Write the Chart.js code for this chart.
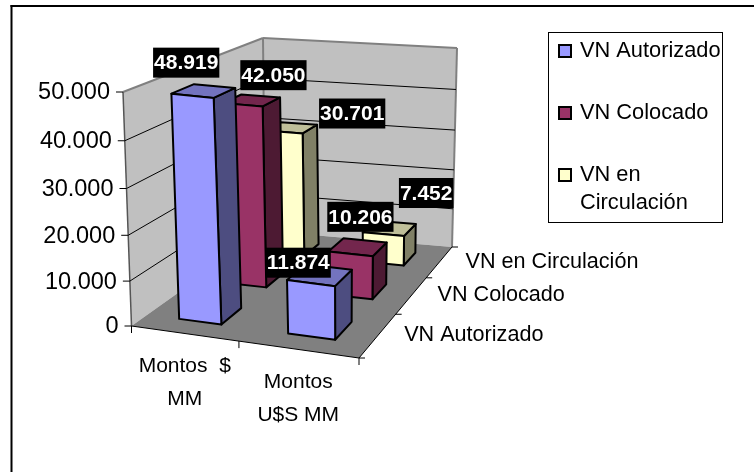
<!DOCTYPE html>
<html>
<head>
<meta charset="utf-8">
<style>
  html, body { margin: 0; padding: 0; background: #fff; }
  #wrap { position: absolute; left: 0; top: 0; width: 754px; height: 472px; }
</style>
<script src="https://cdn.jsdelivr.net/npm/chart.js@4"></script>
</head>
<body>
<div id="wrap"><canvas id="chart" width="754" height="472"></canvas></div>
<script>
const categories = [['Montos  $', 'MM'], ['Montos', 'U$S MM']];
const seriesNames = ['VN Autorizado', 'VN Colocado', 'VN en Circulación'];
const legendLines = [['VN Autorizado'], ['VN Colocado'], ['VN en', 'Circulación']];
const vnAutorizado = [48919, 11874];
const vnColocado = [42050, 10206];
const vnCirculacion = [30701, 7452];

const FONT = '"Liberation Sans", Arial, sans-serif';

// where the box of the 3D plot lands on the page
const floorQuad = [[131.5, 326], [359, 358], [452, 247], [265, 231]];
const roofQuad = [[123, 92], [362, 118], [457, 48], [263, 38]];

// label box offsets from the bar top, by series then category
const labelNudge = [[[-16, -28], [-20, -12]], [[23, -25], [4, -30]], [[62, -14], [38, -35]]];

function quadMap(q) {
  const [p0, p1, p2, p3] = q;
  const dx1 = p1[0] - p2[0], dx2 = p3[0] - p2[0], sx = p0[0] - p1[0] + p2[0] - p3[0];
  const dy1 = p1[1] - p2[1], dy2 = p3[1] - p2[1], sy = p0[1] - p1[1] + p2[1] - p3[1];
  const den = dx1 * dy2 - dx2 * dy1;
  const g = (sx * dy2 - dx2 * sy) / den;
  const h = (dx1 * sy - sx * dy1) / den;
  const a = p1[0] - p0[0] + g * p1[0], b = p3[0] - p0[0] + h * p3[0];
  const d = p1[1] - p0[1] + g * p1[1], e = p3[1] - p0[1] + h * p3[1];
  return function(u, w) {
    const t = g * u + h * w + 1;
    return [(a * u + b * w + p0[0]) / t, (d * u + e * w + p0[1]) / t];
  };
}
const floorAt = quadMap(floorQuad);
const roofAt = quadMap(roofQuad);

// u along categories, w into the page, h up the value axis (all 0..1)
function project(u, w, h) {
  const f = h / (1 + 0.053 * (1 - h));
  const a = floorAt(u, w), b = roofAt(u, w);
  return [a[0] + (b[0] - a[0]) * f, a[1] + (b[1] - a[1]) * f];
}

function poly(ctx, pts, fill, stroke, lw) {
  ctx.beginPath();
  pts.forEach((p, i) => i ? ctx.lineTo(p[0], p[1]) : ctx.moveTo(p[0], p[1]));
  ctx.closePath();
  if (fill) { ctx.fillStyle = fill; ctx.fill(); }
  if (stroke) { ctx.strokeStyle = stroke; ctx.lineWidth = lw; ctx.stroke(); }
}

function seg(ctx, a, b, color, lw) {
  ctx.beginPath();
  ctx.moveTo(a[0], a[1]);
  ctx.lineTo(b[0], b[1]);
  ctx.strokeStyle = color;
  ctx.lineWidth = lw;
  ctx.stroke();
}

function fmt(v) {
  return String(v).replace(/\B(?=(\d{3})+$)/g, '.');
}

function ux(chart, i) { const s = chart.scales.x; return s.getDecimalForPixel(s.getPixelForValue(i)); }
function wz(chart, i) { const s = chart.scales.z; return s.getDecimalForPixel(s.getPixelForValue(i)); }
function hy(chart, v) { const s = chart.scales.y; return s.getDecimalForPixel(s.getPixelForValue(v)); }

// bar controller that paints each value as a box standing on the floor
class Bar3DController extends Chart.BarController {
  draw() {
    const chart = this.chart, ctx = chart.ctx, ds = this.getDataset();
    const w = wz(chart, this.index);
    const du = 0.1, dw = 0.07;
    ctx.save();
    ctx.lineJoin = 'round';
    ds.data.forEach((v, i) => {
      const u = ux(chart, i) + 0.006, h = hy(chart, v);
      const p = (a, b, c) => project(u + a * du, w + b * dw, c);
      poly(ctx, [p(1, -1, 0), p(1, 1, 0), p(1, 1, h), p(1, -1, h)], ds.sideColor, '#000', 2);
      poly(ctx, [p(-1, -1, h), p(1, -1, h), p(1, 1, h), p(-1, 1, h)], ds.topColor, '#000', 2);
      poly(ctx, [p(-1, -1, 0), p(1, -1, 0), p(1, -1, h), p(-1, -1, h)], ds.backgroundColor, '#000', 2);
    });
    ctx.restore();
  }
}
Bar3DController.id = 'bar3d';
Bar3DController.defaults = Chart.BarController.defaults;
Chart.register(Bar3DController);

const plotBox = {
  id: 'plotBox',
  beforeDatasetsDraw(chart) {
    const ctx = chart.ctx, yScale = chart.scales.y;
    ctx.save();
    // outer frame, only its top and left edges fall inside the page
    seg(ctx, [10.5, 6], [754, 6], '#000', 2);
    seg(ctx, [11.5, 5], [11.5, 472], '#000', 2);
    // walls and floor
    poly(ctx, [project(0, 0, 0), project(0, 1, 0), project(0, 1, 1), project(0, 0, 1)], '#c0c0c0');
    poly(ctx, [project(0, 1, 0), project(1, 1, 0), project(1, 1, 1), project(0, 1, 1)], '#c0c0c0');
    poly(ctx, [project(0, 0, 0), project(1, 0, 0), project(1, 1, 0), project(0, 1, 0)], '#808080');
    seg(ctx, project(0, 1, 0), project(0, 1, 1), '#808080', 2);
    seg(ctx, project(0, 0, 1), project(0, 1, 1), '#808080', 2);
    seg(ctx, project(0, 1, 1), project(1, 1, 1), '#808080', 2);
    seg(ctx, project(1, 1, 1), project(1, 1, 0), '#808080', 2);
    seg(ctx, project(0, 0, 0), project(0, 0, 1), '#555', 1.5);
    // gridlines, ticks and value labels
    ctx.font = '23.5px ' + FONT;
    ctx.textAlign = 'right';
    ctx.textBaseline = 'middle';
    ctx.fillStyle = '#000';
    yScale.ticks.forEach(t => {
      const h = hy(chart, t.value);
      const a = project(0, 0, h), b = project(0, 1, h), c = project(1, 1, h);
      if (t.value > 0 && t.value < yScale.max) {
        seg(ctx, a, b, '#000', 1);
        seg(ctx, b, c, '#000', 1);
      }
      seg(ctx, [a[0] - 7, a[1]], a, '#000', 1);
      ctx.fillStyle = '#000';
      ctx.fillText(t.label, a[0] - 13, a[1] + 1);
    });
    // floor edges with their ticks
    seg(ctx, project(0, 0, 0), project(1, 0, 0), '#000', 1);
    seg(ctx, project(1, 0, 0), project(1, 1, 0), '#000', 1);
    [0, 0.5, 1].forEach(u => {
      const a = project(u, 0, 0);
      seg(ctx, a, [a[0], a[1] + 7], '#000', 1);
    });
    [0, 1 / 3, 2 / 3, 1].forEach(w => {
      const a = project(1, w, 0);
      seg(ctx, a, [a[0] + 6, a[1]], '#000', 1);
    });
    // axis labels
    ctx.font = '21px ' + FONT;
    ctx.textAlign = 'center';
    chart.scales.x.getLabels().forEach((lines, i) => {
      const a = project(ux(chart, i), 0, 0);
      lines.forEach((s, k) => ctx.fillText(s, a[0] + 1, a[1] + 33 + k * 33));
    });
    ctx.font = '21.6px ' + FONT;
    ctx.textAlign = 'left';
    chart.scales.z.getLabels().forEach((s, i) => {
      const a = project(1, wz(chart, i), 0);
      ctx.fillText(s, a[0] + 26, a[1]);
    });
    ctx.restore();
  },
  afterDatasetsDraw(chart) {
    const ctx = chart.ctx;
    ctx.save();
    // data labels
    ctx.font = 'bold 21px ' + FONT;
    ctx.textAlign = 'center';
    ctx.textBaseline = 'middle';
    [2, 1, 0].forEach(di => {
      chart.data.datasets[di].data.forEach((v, i) => {
        const top = project(ux(chart, i), wz(chart, di), hy(chart, v));
        const n = labelNudge[di][i];
        const x = top[0] + n[0], y = top[1] + n[1];
        const bw = ctx.measureText(fmt(v)).width + 2;
        ctx.fillStyle = '#000';
        ctx.fillRect(x - bw / 2, y - 15, bw, 30);
        ctx.fillStyle = '#fff';
        ctx.fillText(fmt(v), x, y + 1);
      });
    });
    // legend box
    ctx.strokeStyle = '#000';
    ctx.lineWidth = 1;
    ctx.strokeRect(548.5, 32.5, 174, 190);
    ctx.font = '21.8px ' + FONT;
    ctx.textAlign = 'left';
    const rows = [50, 112, 174];
    chart.data.datasets.forEach((ds, di) => {
      ctx.fillStyle = ds.backgroundColor;
      ctx.fillRect(559, rows[di] - 5, 12, 12);
      ctx.strokeStyle = '#000';
      ctx.lineWidth = 2;
      ctx.strokeRect(559, rows[di] - 5, 12, 12);
      ctx.fillStyle = '#000';
      legendLines[di].forEach((s, k) => ctx.fillText(s, 580, rows[di] + 1 + k * 28));
    });
    ctx.restore();
  }
};

new Chart(document.getElementById('chart'), {
  type: 'bar3d',
  data: {
    labels: categories,
    datasets: [
      { label: seriesNames[0], data: vnAutorizado, backgroundColor: '#9999ff', sideColor: '#4d4d80', topColor: '#7373bf' },
      { label: seriesNames[1], data: vnColocado, backgroundColor: '#993366', sideColor: '#4d1a33', topColor: '#73264d' },
      { label: seriesNames[2], data: vnCirculacion, backgroundColor: '#ffffcc', sideColor: '#808066', topColor: '#bfbf99' }
    ]
  },
  options: {
    responsive: false,
    animation: false,
    layout: { padding: 0 },
    plugins: { legend: { display: false }, tooltip: { enabled: false } },
    scales: {
      x: { type: 'category', display: false, offset: true },
      z: { type: 'category', axis: 'x', position: 'bottom', display: false, offset: true, labels: seriesNames },
      y: {
        type: 'linear', display: false, min: 0, max: 50000,
        ticks: { stepSize: 10000, callback: v => fmt(v) }
      }
    }
  },
  plugins: [plotBox]
});
</script>
</body>
</html>
